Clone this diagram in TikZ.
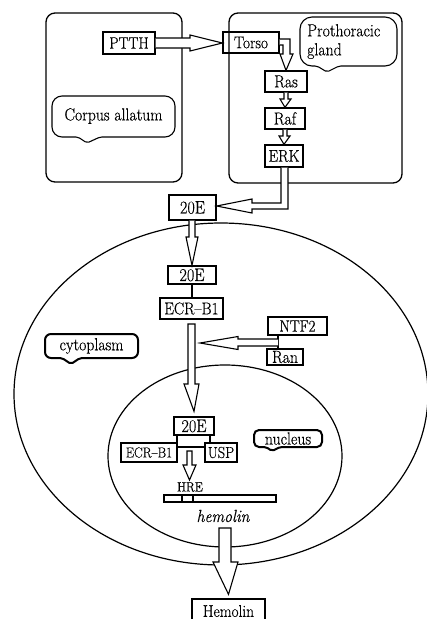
\documentclass[tikz,border=0pt]{standalone}
\usepackage{fontspec}
\setmainfont{Latin Modern Roman}[FakeBold=0.4,FakeStretch=0.9]
\usetikzlibrary{calc}
\newcommand\fs[1]{\fontsize{#1}{21}\selectfont}
\begin{document}
\begin{tikzpicture}[x=1pt,y=-1pt,line join=miter,
  txt/.style={font=\fs{17.5}},
  box/.style={draw,line width=1.3pt,inner sep=0pt,txt},
  fat/.style={draw,line width=1.1pt,fill=white},
  thin/.style={draw,line width=1.1pt},
  frame/.style={draw,line width=1.3pt,rounded corners=9pt},
  cell/.style={draw,line width=1.2pt},
  callA/.style={draw,line width=1.1pt},
  callB/.style={draw,line width=2pt}]
\useasboundingbox (0,0) rectangle (427,619);

% membranes
\draw[cell] (221,394) ellipse [x radius=207pt, y radius=171pt];
\draw[cell] (225,456) ellipse [x radius=117pt, y radius=91pt];

% glands
\draw[frame] (46,13) rectangle (182,182);
\draw[frame] (229,13) rectangle (402,183);

% callouts
\draw[callA] (87,143) [rounded corners=2pt] -- (100,137) [rounded corners=10pt] -- (175,137) -- (175,96) -- (52,96) -- (52,137) [rounded corners=2pt] -- (78,137) -- cycle;
\node[txt] (ca) at (113.5,116) {Corpus allatum};
\draw[callA] (327,72) [rounded corners=2pt] -- (339,66) [rounded corners=12pt] -- (397,66) -- (397,17) -- (300,17) -- (300,66) [rounded corners=2pt] -- (317,66) -- cycle;
\node[txt,anchor=north west,align=left,inner sep=0pt,font=\fontsize{17.5}{19}\selectfont] (pg) at (307,24) {Prothoracic\\gland};
\draw[callB] (71,364) [rounded corners=2pt] -- (80,358) [rounded corners=6pt] -- (138,358) -- (138,334) -- (45,334) -- (45,358) [rounded corners=2pt] -- (62,358) -- cycle;
\node[txt] (cy) at (91.5,346) {cytoplasm};
\draw[callB] (272,451) [rounded corners=2pt] -- (280,447) [rounded corners=5pt] -- (322,447) -- (322,430) -- (254,430) -- (254,447) [rounded corners=2pt] -- (266,447) -- cycle;
\node[txt] (nu) at (288,438.5) {nucleus};

% boxes
\node[box,minimum width=52pt,minimum height=22pt,font=\fs{16.5}] (ptth) at (129,43) {PTTH};
\node[box,minimum width=56pt,minimum height=21pt,font=\fs{17}] (torso) at (251,42.5) {Torso};
\node[box,minimum width=42pt,minimum height=21pt] (ras) at (286,81.5) {Ras};
\node[box,minimum width=40pt,minimum height=21pt] (raf) at (285,118.5) {Raf};
\node[box,minimum width=38pt,minimum height=22pt,font=\fs{17}] (erk) at (284,156) {ERK};
\node[box,minimum width=47pt,minimum height=25pt,font=\fs{18}] (ea) at (192.5,207.5) {20E};
\node[box,minimum width=48pt,minimum height=18pt,font=\fs{18}] (eb) at (192,275) {20E};
\node[box,minimum width=63pt,minimum height=21pt,font=\fs{17}] (ecr) at (191.5,308.5) {ECR--B1};
\node[box,minimum width=59pt,minimum height=18pt,font=\fs{16.5}] (ntf) at (297.5,326) {NTF2};
\node[box,minimum width=36pt,minimum height=16pt] (ran) at (285,357) {Ran};
\node[box,minimum width=40pt,minimum height=18pt,font=\fs{18}] (en) at (194,426) {20E};
\node[box,minimum width=56pt,minimum height=19pt,font=\fs{14.5}] (ecs) at (149,452.5) {ECR--B1};
\node[box,minimum width=32pt,minimum height=19pt,font=\fs{16}] (usp) at (221,452.5) {USP};
\node[box,minimum width=73pt,minimum height=24pt,font=\fs{17}] (hem) at (228.5,611) {Hemolin};

% gene
\node[draw,line width=1.1pt,minimum width=112pt,minimum height=7pt,inner sep=0pt] (gene) at (220,498.5) {};
\draw[thin] (182,0 |- gene.north) -- (182,0 |- gene.south);
\draw[thin] (193,0 |- gene.north) -- (193,0 |- gene.south);
\node[font=\fs{13.5},inner sep=0pt] (hre) at (190,487) {HRE};
\node[font=\fs{17.5}\itshape] (hemg) at (223,516) {hemolin};

% arrows
\draw[fat] (ptth.east |- 0,38) -- (190,38) -- (190,35) -- (torso.west |- 0,43) -- (190,51) -- (190,48) -- (ptth.east |- 0,48);
\draw[fat] (torso.east |- 0,39) -- (290,39) -- (290,54) -- (293,54) -- (ras.north) -- (280,54) -- (283,54) -- (283,45) -- (torso.east |- 0,45);
\draw[fat] (284,0 |- ras.south) -- (284,99) -- (280,99) -- (raf.north) -- (291,99) -- (288,99) -- (288,0 |- ras.south);
\draw[fat] (283,0 |- raf.south) -- (283,136) -- (279,136) -- (erk.north) -- (290,136) -- (287,136) -- (287,0 |- raf.south);
\draw[fat] (288,0 |- erk.south) -- (288,209) -- (252,209) -- (252,213) -- (ea.east |- 0,206) -- (252,199) -- (252,203) -- (281,203) -- (281,0 |- erk.south);
\draw[fat] (189,0 |- ea.south) -- (189,237) -- (186,237) -- (eb.north) -- (198,237) -- (195,237) -- (195,0 |- ea.south);
\draw[thin] (eb.south) -- (eb.south |- ecr.north);
\coordinate (t8) at ([yshift=5pt]en.north);
\draw[fat] (188,324) -- (188,384) -- (184,384) -- (t8) -- (199,384) -- (195,384) -- (195,324) -- cycle;
\draw[thin] (278,0 |- ntf.south) -- (278,0 |- ran.north);
\coordinate (t9) at (200,343);
\draw[fat] (278,339) -- (238,339) -- (238,336.5) -- (t9) -- (238,349.5) -- (238,346) -- (278,346);
\draw[thin] (177,0 |- en.south) -- (177,0 |- ecs.north);
\draw[thin] (210,0 |- en.south) -- (210,0 |- usp.north);
\draw[thin] (ecs.east |- 0,447) -- (usp.west |- 0,447);
\coordinate (t11) at (189.5,480);
\draw[fat] (187,451) -- (187,465) -- (183,465) -- (t11) -- (196,465) -- (192,465) -- (192,451) -- cycle;
\coordinate (t13) at ([yshift=4pt]hem.north);
\draw[fat] (219,528) -- (219,562) -- (213,562) -- (t13) -- (238,562) -- (231,562) -- (231,528) -- cycle;
\end{tikzpicture}
\end{document}
